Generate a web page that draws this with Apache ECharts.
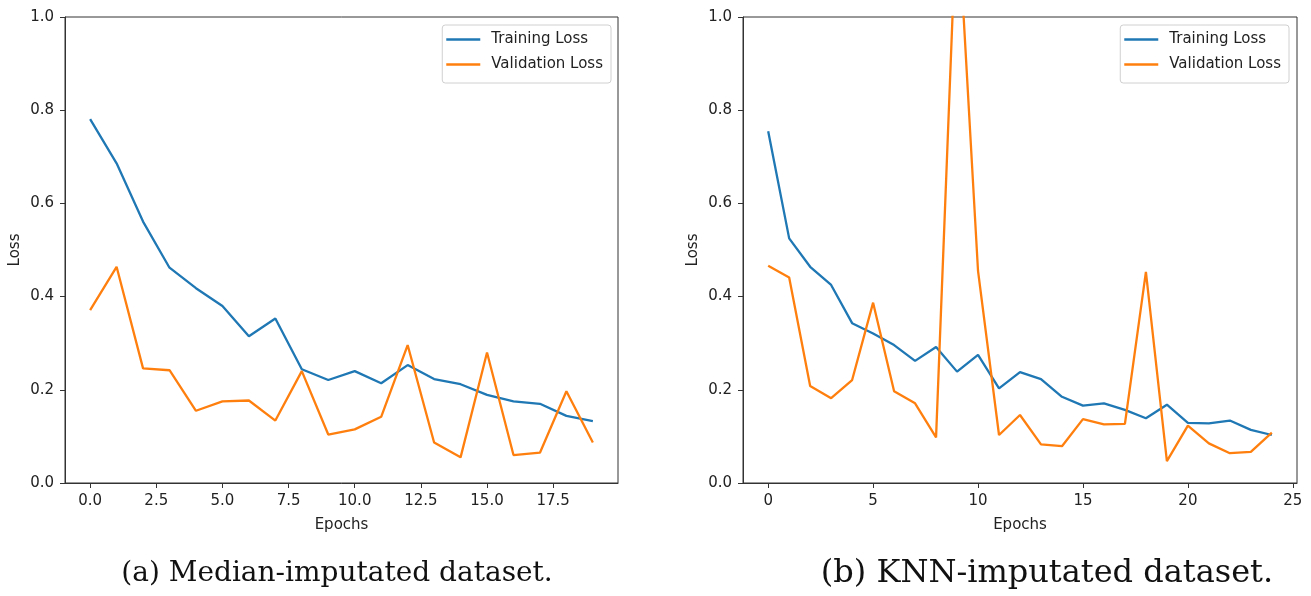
<!DOCTYPE html>
<html>
<head>
<meta charset="utf-8">
<script src="https://cdn.jsdelivr.net/npm/echarts@6/dist/echarts.min.js"></script>
<style>
  html, body { margin: 0; padding: 0; background: #fff; }
  #chart { width: 1311px; height: 596px; }
</style>
</head>
<body>
<div id="chart"></div>
<script>
// ---- Data ----
const epochsA = [0, 1, 2, 3, 4, 5, 6, 7, 8, 9, 10, 11, 12, 13, 14, 15, 16, 17, 18, 19];
const trainA = [0.781, 0.686, 0.561, 0.462, 0.418, 0.380, 0.315, 0.353, 0.244, 0.221,
                0.240, 0.214, 0.253, 0.223, 0.212, 0.189, 0.175, 0.170, 0.144, 0.133];
const valA   = [0.371, 0.464, 0.246, 0.242, 0.155, 0.175, 0.177, 0.134, 0.240, 0.104,
                0.115, 0.142, 0.296, 0.087, 0.055, 0.280, 0.060, 0.065, 0.197, 0.087];

const epochsB = [0, 1, 2, 3, 4, 5, 6, 7, 8, 9, 10, 11, 12, 13, 14, 15, 16, 17, 18, 19, 20, 21, 22, 23, 24];
const trainB = [0.755, 0.525, 0.464, 0.425, 0.343, 0.321, 0.296, 0.262, 0.292, 0.239,
                0.275, 0.203, 0.238, 0.223, 0.185, 0.166, 0.171, 0.157, 0.139, 0.168,
                0.129, 0.128, 0.134, 0.114, 0.103];
const valB   = [0.466, 0.441, 0.208, 0.182, 0.221, 0.387, 0.197, 0.171, 0.098, 1.25,
                0.455, 0.103, 0.146, 0.083, 0.079, 0.137, 0.126, 0.127, 0.453, 0.047,
                0.123, 0.085, 0.064, 0.067, 0.108];

const xTicksA = [0, 2.5, 5, 7.5, 10, 12.5, 15, 17.5];
const xTicksB = [0, 5, 10, 15, 20, 25];
const seriesNames = ['Training Loss', 'Validation Loss'];
const captions = ['(a) Median-imputated dataset.', '(b) KNN-imputated dataset.'];
const axisNames = { x: 'Epochs', y: 'Loss' };

// ---- Styling ----
const C_TRAIN = '#1f77b4';
const C_VAL = '#ff7f0e';
const AX = '#333333';
const TXT = '#222222';
const FONT = 'DejaVu Sans';

function pairs(xs, ys) { return xs.map((x, i) => [x, ys[i]]); }

function xAxisCfg(idx, min, max, ticks, decimals) {
  return {
    type: 'value', gridIndex: idx, min: min, max: max,
    name: axisNames.x, nameLocation: 'middle', nameGap: 35,
    nameTextStyle: { fontFamily: FONT, fontSize: 15, color: TXT },
    axisLine: { show: true, onZero: false, lineStyle: { color: AX, width: 1 } },
    axisTick: { show: true, inside: false, length: 5, customValues: ticks, lineStyle: { color: AX } },
    axisLabel: { show: true, margin: 11, customValues: ticks, fontFamily: FONT, fontSize: 15, color: TXT,
                 formatter: v => Number(v).toFixed(decimals) },
    splitLine: { show: false }
  };
}
function yAxisCfg(idx) {
  return {
    type: 'value', gridIndex: idx, min: 0, max: 1, interval: 0.2,
    name: axisNames.y, nameLocation: 'middle', nameGap: 42, nameRotate: 90,
    nameTextStyle: { fontFamily: FONT, fontSize: 15, color: TXT },
    axisLine: { show: true, onZero: false, lineStyle: { color: AX, width: 1 } },
    axisTick: { show: true, inside: false, length: 5, lineStyle: { color: AX } },
    axisLabel: { show: true, margin: 11, fontFamily: FONT, fontSize: 15, color: TXT,
                 formatter: v => Number(v).toFixed(1) },
    splitLine: { show: false }
  };
}
function legendCfg(right) {
  return {
    orient: 'vertical', right: right, top: 25,
    data: seriesNames,
    icon: 'rect', itemWidth: 34, itemHeight: 2.5, itemGap: 8,
    textStyle: { fontFamily: FONT, fontSize: 15, color: TXT, padding: [0, 0, 0, 6], lineHeight: 17 },
    borderColor: '#d0d0d0', borderWidth: 1, borderRadius: 3,
    padding: [6, 8, 10, 4],
    backgroundColor: 'rgba(255,255,255,0.8)',
    selectedMode: false
  };
}
function lineSeries(name, color, xi, data) {
  return {
    type: 'line', name: name, xAxisIndex: xi, yAxisIndex: xi,
    data: data, symbol: 'none', showSymbol: false, clip: true,
    lineStyle: { color: color, width: 2.3 }, itemStyle: { color: color },
    animation: false
  };
}

const chart = echarts.init(document.getElementById('chart'), null, { renderer: 'canvas' });
chart.setOption({
  backgroundColor: '#ffffff',
  animation: false,
  grid: [
    { left: 65, top: 17, width: 553, height: 466, show: true, borderColor: AX, borderWidth: 1, backgroundColor: 'transparent' },
    { left: 743, top: 17, width: 554, height: 466, show: true, borderColor: AX, borderWidth: 1, backgroundColor: 'transparent' }
  ],
  xAxis: [
    xAxisCfg(0, -0.95, 19.95, xTicksA, 1),
    xAxisCfg(1, -1.2, 25.2, xTicksB, 0)
  ],
  yAxis: [yAxisCfg(0), yAxisCfg(1)],
  legend: [legendCfg(700), legendCfg(22)],
  series: [
    lineSeries(seriesNames[0], C_TRAIN, 0, pairs(epochsA, trainA)),
    lineSeries(seriesNames[1], C_VAL, 0, pairs(epochsA, valA)),
    lineSeries(seriesNames[0], C_TRAIN, 1, pairs(epochsB, trainB)),
    lineSeries(seriesNames[1], C_VAL, 1, pairs(epochsB, valB))
  ],
  graphic: [
    { type: 'text', x: 337, y: 574, style: { text: captions[0], font: '28px "DejaVu Serif"', fill: '#111', textAlign: 'center', textVerticalAlign: 'middle' } },
    { type: 'text', x: 1047, y: 574, style: { text: captions[1], font: '32px "DejaVu Serif"', fill: '#111', textAlign: 'center', textVerticalAlign: 'middle' } }
  ]
});
</script>
</body>
</html>
